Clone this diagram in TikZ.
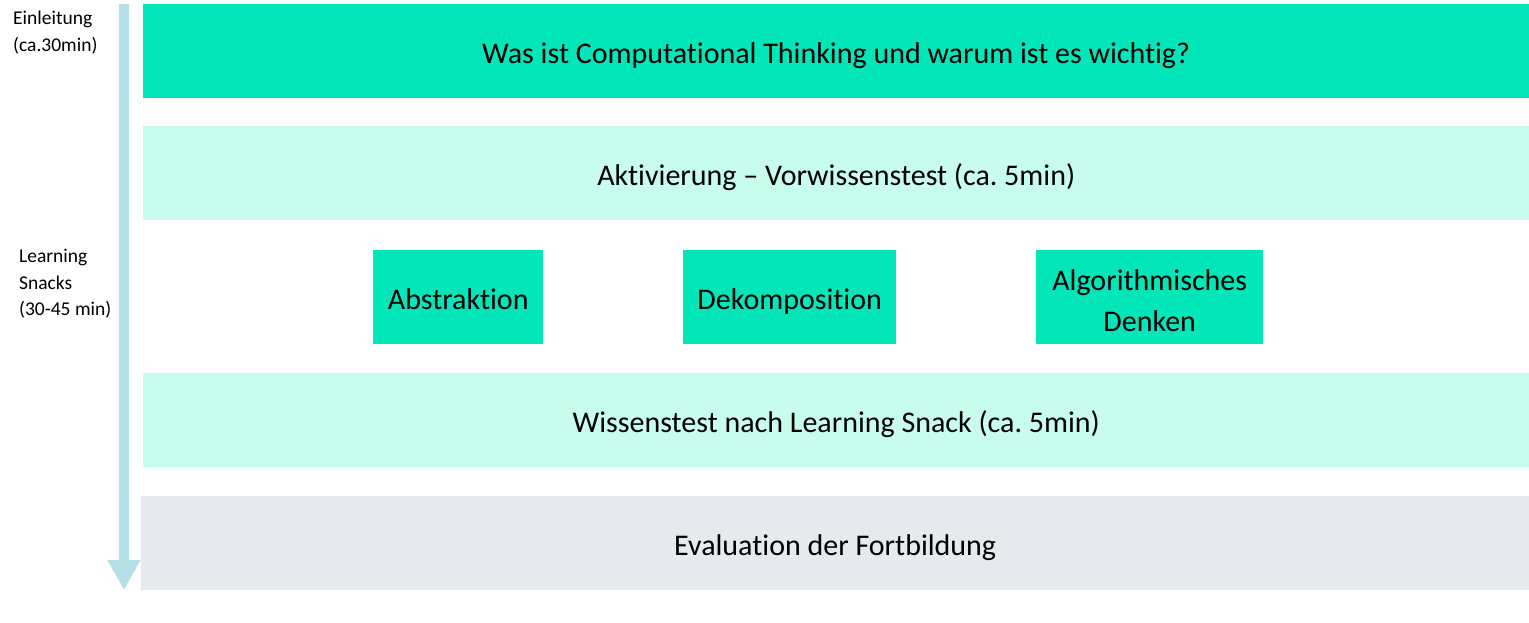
\documentclass[tikz,border=0pt]{standalone}
\usepackage{fontspec}
\setmainfont{Carlito}[Ligatures=NoCommon]
\usetikzlibrary{arrows.meta}
\frenchspacing

\definecolor{ctgreen}{HTML}{00E6B9}
\definecolor{ctmint}{HTML}{C8FDEE}
\definecolor{ctgrey}{HTML}{E6E9EE}
\definecolor{ctarrow}{HTML}{B5E0E6}

\tikzset{
  phase/.style={anchor=north west, inner sep=0pt, minimum width=1386pt,
    minimum height=94pt, text height=24pt, text depth=0pt,
    font=\fontsize{30}{36}\selectfont},
  snack/.style={anchor=north west, inner sep=0pt, minimum height=94pt,
    fill=ctgreen, align=center, font=\fontsize{30}{41}\selectfont},
  timelabel/.style={anchor=north west, inner sep=0pt, align=left,
    font=\fontsize{19.5}{26.5}\selectfont}
}

\begin{document}
\begin{tikzpicture}[x=1pt,y=-1pt]
        \useasboundingbox (0,0) rectangle (1529,622);

        % time line
        \coordinate (top) at (124,4);
        \coordinate (bottom) at (124,590);
        \draw[ctarrow, line width=10pt,
          -{Triangle[width=31pt,length=30pt]}] (top) -- (bottom);

        \node[timelabel] (intro) at (13,11) {Einleitung\\(ca.30min)};
        \node[timelabel] (snacks) at (19,249) {Learning\\Snacks\\(30-45 min)};

        % phases
        \begin{scope}[every node/.style={phase}]
          \node[fill=ctgreen] (what) at (143,4)
            {Was ist Computational Thinking und warum ist es wichtig?};
          \node[fill=ctmint]  (pre)  at (143,126)
            {Aktivierung -- Vorwissenstest (ca. 5min)};
          \node[fill=ctmint]  (post) at (143,373)
            {Wissenstest nach Learning Snack (ca. 5min)};
          \node[fill=ctgrey, minimum width=1388pt] (eval) at (141,496)
            {Evaluation der Fortbildung};
        \end{scope}

        % learning snacks
        \begin{scope}[every node/.style={snack}]
          \node[minimum width=170pt, text height=25pt, text depth=0pt] (abs)
            at (373,250) {Abstraktion};
          \node[minimum width=213pt, text height=25pt, text depth=0pt] (dek)
            at (683,250) {Dekomposition};
          \node[minimum width=227pt] (alg) at (1036,250)
            {\rule{0pt}{27pt}Algorithmisches\\Denken};
        \end{scope}

      \end{tikzpicture}
\end{document}
